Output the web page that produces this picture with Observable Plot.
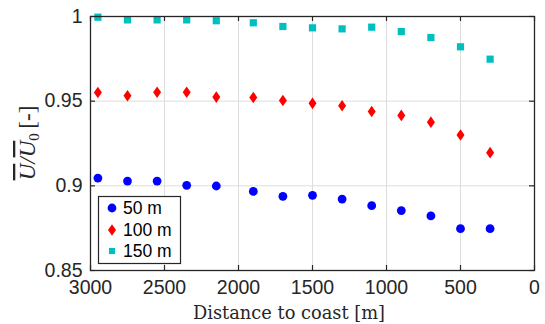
<!DOCTYPE html>
<html>
<head>
<meta charset="utf-8">
<script src="https://cdn.jsdelivr.net/npm/d3@7"></script>
<script src="https://cdn.jsdelivr.net/npm/@observablehq/plot@0.6"></script>
<style>
  html, body { margin: 0; padding: 0; background: #fff; }
</style>
</head>
<body>
<script>
// ---- data ----
const distance = [2950, 2750, 2550, 2350, 2150, 1900, 1700, 1500, 1300, 1100, 900, 700, 500, 300];
const u50  = [0.9046, 0.9028, 0.9028, 0.9003, 0.8999, 0.8967, 0.8938, 0.8944, 0.8922, 0.8883, 0.8854, 0.8822, 0.8747, 0.8747];
const u100 = [0.9551, 0.9532, 0.9553, 0.9553, 0.9524, 0.9522, 0.9504, 0.9487, 0.9473, 0.9439, 0.9416, 0.9376, 0.9300, 0.9196];
const u150 = [0.9996, 0.9980, 0.9980, 0.9980, 0.9975, 0.9963, 0.9941, 0.9933, 0.9927, 0.9937, 0.9911, 0.9876, 0.9821, 0.9748];
const seriesNames = ["50 m", "100 m", "150 m"];
const xTicks = [3000, 2500, 2000, 1500, 1000, 500, 0];
const yTicks = [0.85, 0.9, 0.95, 1];
const xLabel = "Distance to coast [m]";

// ---- styles ----
const colors = ["#0000ff", "#ff0000", "#00bfbf"];
const axisColor = "#262626";
const W = 545, H = 324;
const mL = 90, mR = 11, mT = 16, mB = 54;
const plotW = W - mL - mR, plotH = H - mT - mB;
const tickLen = 5;

// custom symbols
const diamondSym = { draw(ctx) { const w = 4, h = 5.8; ctx.moveTo(0, -h); ctx.lineTo(w, 0); ctx.lineTo(0, h); ctx.lineTo(-w, 0); ctx.closePath(); } };
const squareSym = { draw(ctx) { const s = 3.6; ctx.moveTo(-s, -s); ctx.lineTo(s, -s); ctx.lineTo(s, s); ctx.lineTo(-s, s); ctx.closePath(); } };
const circleSym = { draw(ctx) { const r = 4.4; ctx.moveTo(r, 0); ctx.arc(0, 0, r, 0, 2 * Math.PI); ctx.closePath(); } };
const symbols = [circleSym, diamondSym, squareSym];

const tables = [u50, u100, u150].map(vals => distance.map((d, i) => ({ d, u: vals[i] })));

const svg = Plot.plot({
  width: W, height: H,
  marginLeft: mL, marginRight: mR, marginTop: mT, marginBottom: mB,
  style: { fontFamily: "'Liberation Sans', Arial, Helvetica, sans-serif", fontSize: "19.5px", color: axisColor, background: "#fff", overflow: "visible" },
  x: { domain: [3000, 0], range: [mL, W - mR] },
  y: { domain: [0.85, 1] },
  marks: [
    Plot.gridX(xTicks, { stroke: "#dedede", strokeOpacity: 1, strokeWidth: 1 }),
    Plot.gridY(yTicks, { stroke: "#dedede", strokeOpacity: 1, strokeWidth: 1 }),
    Plot.axisX(xTicks, { tickSize: 0, tickPadding: 10, tickFormat: d => String(d), label: null, fill: "#262626" }),
    Plot.axisY(yTicks, { tickSize: 0, tickPadding: 8, tickFormat: d => String(+d.toFixed(2)), label: null, fill: "#262626" }),
    // inward ticks on all four sides
    Plot.ruleX(xTicks, { x: d => d, insetTop: plotH - tickLen, stroke: axisColor, strokeWidth: 1.2 }),
    Plot.ruleX(xTicks, { x: d => d, insetBottom: plotH - tickLen, stroke: axisColor, strokeWidth: 1.2 }),
    Plot.ruleY(yTicks, { y: d => d, insetRight: plotW - tickLen, stroke: axisColor, strokeWidth: 1.2 }),
    Plot.ruleY(yTicks, { y: d => d, insetLeft: plotW - tickLen, stroke: axisColor, strokeWidth: 1.2 }),
    ...tables.map((t, k) => Plot.dot(t, { x: "d", y: "u", symbol: symbols[k], fill: colors[k], stroke: "none", r: 4 })),
    Plot.frame({ stroke: axisColor, strokeWidth: 1.3 })
  ]
});

const s = d3.select(svg);

// x-axis title
s.append("text")
  .attr("x", 289).attr("y", 319)
  .attr("text-anchor", "middle")
  .attr("font-family", "'DejaVu Serif', 'Liberation Serif', serif")
  .attr("font-size", 18)
  .attr("textLength", 192)
  .attr("lengthAdjust", "spacingAndGlyphs")
  .attr("fill", "#262626")
  .text(xLabel);

// y-axis title: overline U / overline U_0 [-]
const yt = s.append("text")
  .attr("transform", "translate(35,143) rotate(-90)")
  .attr("text-anchor", "middle")
  .attr("font-family", "'Liberation Serif', 'Times New Roman', serif")
  .attr("font-size", 23)
  .attr("fill", "#262626");
yt.append("tspan").attr("font-style", "italic").style("text-decoration", "overline").text("U");
yt.append("tspan").attr("font-style", "italic").text("/");
yt.append("tspan").attr("font-style", "italic").style("text-decoration", "overline").text("U");
yt.append("tspan").attr("font-size", 15).attr("dy", 4).text("0");
yt.append("tspan").attr("dy", -4).text("\u2009[-]");

// legend
const lg = s.append("g");
lg.append("rect").attr("x", 98.5).attr("y", 196.5).attr("width", 82).attr("height", 67)
  .attr("fill", "#fff").attr("stroke", axisColor).attr("stroke-width", 1.2);
const rowY = [208, 230, 251];
seriesNames.forEach((name, k) => {
  const p = d3.path();
  symbols[k].draw(p);
  lg.append("path").attr("d", p.toString())
    .attr("transform", `translate(112,${rowY[k]})${k === 2 ? " scale(0.85)" : ""}`)
    .attr("fill", colors[k]);
  lg.append("text").attr("x", 123).attr("y", rowY[k]).attr("dy", "0.36em")
    .attr("text-anchor", "start")
    .attr("font-size", 17.5).attr("fill", "#000").text(name);
});

document.body.append(svg);
</script>
</body>
</html>
